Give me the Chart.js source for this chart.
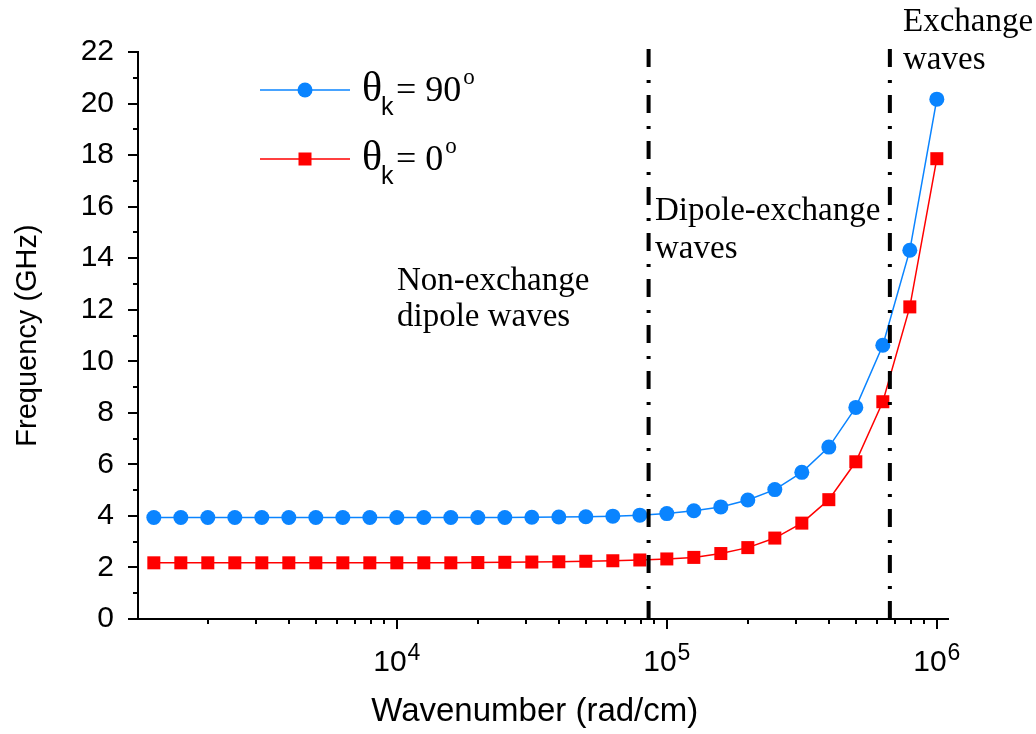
<!DOCTYPE html>
<html>
<head>
<meta charset="utf-8">
<script src="https://cdn.jsdelivr.net/npm/chart.js@4/dist/chart.umd.min.js"></script>
<style>
  html, body { margin: 0; padding: 0; background: #fff; }
  #wrap { width: 1036px; height: 734px; }
</style>
</head>
<body>
<div id="wrap"><canvas id="chart" width="1036" height="734"></canvas></div>
<script>
// wavenumber (rad/cm), 10 points per decade
const wavenumbers = [1259, 1585, 1995, 2512, 3162, 3981, 5012, 6310, 7943, 10000,
  12589, 15849, 19953, 25119, 31623, 39811, 50119, 63096, 79433, 100000,
  125893, 158489, 199526, 251189, 316228, 398107, 501187, 630957, 794328, 1000000];

// frequency (GHz)
const freq90 = [3.94, 3.94, 3.94, 3.94, 3.94, 3.94, 3.94, 3.94, 3.94, 3.94,
  3.94, 3.94, 3.94, 3.94, 3.95, 3.96, 3.97, 3.99, 4.03, 4.09,
  4.20, 4.35, 4.62, 5.02, 5.69, 6.67, 8.21, 10.62, 14.31, 20.17];
const freq0 = [2.18, 2.18, 2.18, 2.18, 2.18, 2.18, 2.18, 2.18, 2.18, 2.18,
  2.18, 2.18, 2.19, 2.20, 2.21, 2.22, 2.24, 2.26, 2.29, 2.33,
  2.39, 2.54, 2.77, 3.14, 3.72, 4.63, 6.10, 8.43, 12.11, 17.86];

const seriesNames = ['θk = 90°', 'θk = 0°'];
const legendValues = ['= 90', '= 0'];
const seriesColors = ['#0a84ff', '#ff0000'];

const xMajorTicks = [1e4, 1e5, 1e6];
const xTickExponents = ['4', '5', '6'];
const yTicks = [0, 2, 4, 6, 8, 10, 12, 14, 16, 18, 20, 22];

// region boundaries (dash-dot lines)
const regionBounds = [85600, 670000];
const regionNotes = [
  { lines: ['Non-exchange', 'dipole waves'], x: 397, y: [290, 326] },
  { lines: ['Dipole-exchange', 'waves'], x: 655, y: [220, 258] },
  { lines: ['Exchange', 'waves'], x: 903, y: [31, 69] }
];

const sans = '"Liberation Sans", Arial, Helvetica, sans-serif';
const serif = '"Liberation Serif", "Times New Roman", serif';

const extras = {
  id: 'extras',
  afterDraw(chart) {
    const ctx = chart.ctx;
    const xs = chart.scales.x;
    const ys = chart.scales.y;
    const area = chart.chartArea;
    ctx.save();

    // dash-dot boundaries
    ctx.strokeStyle = '#000';
    ctx.lineWidth = 4;
    ctx.setLineDash([18, 12, 3, 13]);
    regionBounds.forEach(v => {
      const px = xs.getPixelForValue(v);
      ctx.beginPath();
      ctx.moveTo(px, ys.getPixelForValue(0));
      ctx.lineTo(px, ys.getPixelForValue(22.45));
      ctx.stroke();
    });
    ctx.setLineDash([]);

    // x ticks (log major + minor)
    ctx.lineWidth = 2;
    ctx.strokeStyle = '#000';
    const bottom = area.bottom;
    [1e3, 1e4, 1e5, 1e6].forEach(d => {
      for (let m = 1; m < 10; m++) {
        const v = d * m;
        if (v < xs.min || v > xs.max) continue;
        const px = Math.round(xs.getPixelForValue(v));
        const len = m === 1 ? 10 : 5;
        ctx.beginPath();
        ctx.moveTo(px, bottom);
        ctx.lineTo(px, bottom + len);
        ctx.stroke();
      }
    });

    // y ticks (major + minor)
    const left = area.left;
    for (let v = 0; v <= 22; v++) {
      const py = Math.round(ys.getPixelForValue(v));
      const len = v % 2 === 0 ? 10 : 5;
      ctx.beginPath();
      ctx.moveTo(left, py);
      ctx.lineTo(left - len, py);
      ctx.stroke();
    }

    // x tick labels 10^n
    ctx.fillStyle = '#000';
    ctx.textBaseline = 'alphabetic';
    ctx.textAlign = 'left';
    xMajorTicks.forEach((v, i) => {
      const px = xs.getPixelForValue(v);
      ctx.font = '30px ' + sans;
      const w1 = ctx.measureText('10').width;
      ctx.font = '23px ' + sans;
      const w2 = ctx.measureText(xTickExponents[i]).width;
      const x0 = px - (w1 + w2 + 1) / 2;
      ctx.font = '30px ' + sans;
      ctx.fillText('10', x0, bottom + 52);
      ctx.font = '23px ' + sans;
      ctx.fillText(xTickExponents[i], x0 + w1 + 1, bottom + 41);
    });

    // region notes
    ctx.font = '33px ' + serif;
    regionNotes.forEach(n => {
      n.lines.forEach((t, j) => ctx.fillText(t, n.x, n.y[j]));
    });

    // legend
    const rows = [90, 159];
    chart.data.datasets.forEach((ds, i) => {
      const y = rows[i];
      ctx.strokeStyle = ds.borderColor;
      ctx.lineWidth = 1.5;
      ctx.beginPath();
      ctx.moveTo(260, y);
      ctx.lineTo(350, y);
      ctx.stroke();
      ctx.fillStyle = ds.backgroundColor;
      if (ds.pointStyle === 'rect') {
        ctx.fillRect(298.5, y - 6.5, 13, 13);
      } else {
        ctx.beginPath();
        ctx.arc(305, y, 7.5, 0, Math.PI * 2);
        ctx.fill();
      }
      ctx.fillStyle = '#000';
      const base = y + 11;
      ctx.font = '42px ' + serif;
      ctx.fillText('θ', 362, base);
      ctx.font = '25px ' + sans;
      ctx.fillText('k', 381, base + 14);
      ctx.font = '36px ' + serif;
      ctx.fillText(legendValues[i], 396, base);
      const x = 396 + ctx.measureText(legendValues[i]).width + 2;
      ctx.font = '23px ' + serif;
      ctx.fillText('o', x, base - 17);
    });

    ctx.restore();
  }
};

new Chart(document.getElementById('chart'), {
  type: 'line',
  data: {
    labels: wavenumbers,
    datasets: [
      {
        label: seriesNames[0],
        data: wavenumbers.map((x, i) => ({ x: x, y: freq90[i] })),
        borderColor: seriesColors[0],
        backgroundColor: seriesColors[0],
        borderWidth: 1.5,
        pointStyle: 'circle',
        pointRadius: 7.5,
        pointBorderWidth: 0,
        tension: 0
      },
      {
        label: seriesNames[1],
        data: wavenumbers.map((x, i) => ({ x: x, y: freq0[i] })),
        borderColor: seriesColors[1],
        backgroundColor: seriesColors[1],
        borderWidth: 1.5,
        pointStyle: 'rect',
        pointRadius: 9.2,
        pointBorderWidth: 0,
        tension: 0
      }
    ]
  },
  options: {
    responsive: false,
    animation: false,
    layout: { padding: { top: 52, right: 88, left: 0, bottom: 0 } },
    plugins: {
      legend: { display: false },
      tooltip: { enabled: false }
    },
    scales: {
      x: {
        type: 'logarithmic',
        min: 1100,
        max: 1.1e6,
        grid: { display: false },
        border: { display: true, color: '#000', width: 2 },
        ticks: { display: false },
        title: {
          display: true,
          text: 'Wavenumber (rad/cm)\u2002',
          color: '#000',
          font: { family: sans, size: 33 },
          padding: { top: 0, bottom: 2 }
        },
        afterFit: s => { s.height = 115; }
      },
      y: {
        min: 0,
        max: 22,
        afterBuildTicks: s => { s.ticks = yTicks.map(v => ({ value: v })); },
        grid: { display: false },
        border: { display: true, color: '#000', width: 2 },
        ticks: {
          color: '#000',
          padding: 16,
          font: { family: sans, size: 30 }
        },
        title: {
          display: true,
          text: 'Frequency (GHz)',
          color: '#000',
          font: { family: sans, size: 29 },
          padding: { top: 11, bottom: 0 }
        },
        afterFit: s => { s.width = 138; }
      }
    }
  },
  plugins: [extras]
});
</script>
</body>
</html>
